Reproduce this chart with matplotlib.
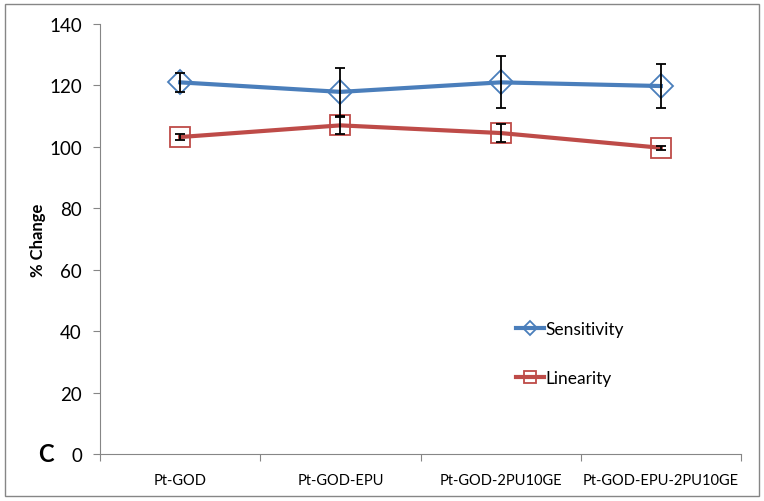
import matplotlib.pyplot as plt
from matplotlib.patches import Rectangle

plt.rcParams['font.family'] = ['Lato', 'DejaVu Sans']

categories = ['Pt-GOD', 'Pt-GOD-EPU', 'Pt-GOD-2PU10GE', 'Pt-GOD-EPU-2PU10GE']
sensitivity = [121.0, 117.9, 121.0, 119.8]
sensitivity_err = [3.0, 7.7, 8.5, 7.1]
linearity = [103.2, 107.0, 104.5, 99.7]
linearity_err = [1.1, 2.8, 3.0, 0.7]

blue = '#4A7EBB'
red = '#BE4B48'
axis_grey = '#868686'

fig = plt.figure(figsize=(7.64, 5.02), dpi=100)
ax = fig.add_axes([0.1309, 0.0936, 0.839, 0.8566])

x = list(range(len(categories)))

ax.plot(x, sensitivity, color=blue, lw=3, marker='D', markersize=12,
        markerfacecolor='none', markeredgecolor=blue, markeredgewidth=1.3,
        label='Sensitivity', zorder=3)
ax.plot(x, linearity, color=red, lw=3, marker='s', markersize=14,
        markerfacecolor='none', markeredgecolor=red, markeredgewidth=1.3,
        label='Linearity', zorder=3)
ax.errorbar(x, sensitivity, yerr=sensitivity_err, fmt='none', ecolor='black',
            elinewidth=1.3, capsize=3.5, capthick=1.3, zorder=4)
ax.errorbar(x, linearity, yerr=linearity_err, fmt='none', ecolor='black',
            elinewidth=1.3, capsize=3.5, capthick=1.3, zorder=4)

ax.set_xlim(-0.5, len(categories) - 0.5)
ax.set_ylim(0, 140)
ax.set_yticks(range(0, 141, 20))
ax.tick_params(axis='y', labelsize=13.5, color=axis_grey, length=5, pad=8)

ax.set_xticks([i - 0.5 for i in range(len(categories) + 1)])
ax.set_xticklabels([])
ax.set_xticks(x, minor=True)
ax.set_xticklabels(categories, minor=True, fontsize=10.5)
ax.tick_params(axis='x', which='major', color=axis_grey, length=5)
ax.tick_params(axis='x', which='minor', length=0, pad=14)

for side in ['top', 'right']:
    ax.spines[side].set_visible(False)
for side in ['left', 'bottom']:
    ax.spines[side].set_color(axis_grey)

ax.set_ylabel('% Change', fontsize=12, fontweight='bold', labelpad=2)

ax.legend(loc='upper left', bbox_to_anchor=(0.625, 0.345), frameon=False,
          fontsize=12.5, handlelength=1.6, labelspacing=1.9, handletextpad=0.1,
          markerscale=0.6)

fig.text(38 / 764, 1 - 455 / 502, 'C', fontsize=17, fontweight='bold',
         ha='left', va='center')

fig.patches.append(Rectangle((5 / 764, 5 / 502), 754 / 764, 492 / 502,
                             transform=fig.transFigure, fill=False,
                             edgecolor=axis_grey, lw=1))

fig.savefig('out.png', dpi=100)
